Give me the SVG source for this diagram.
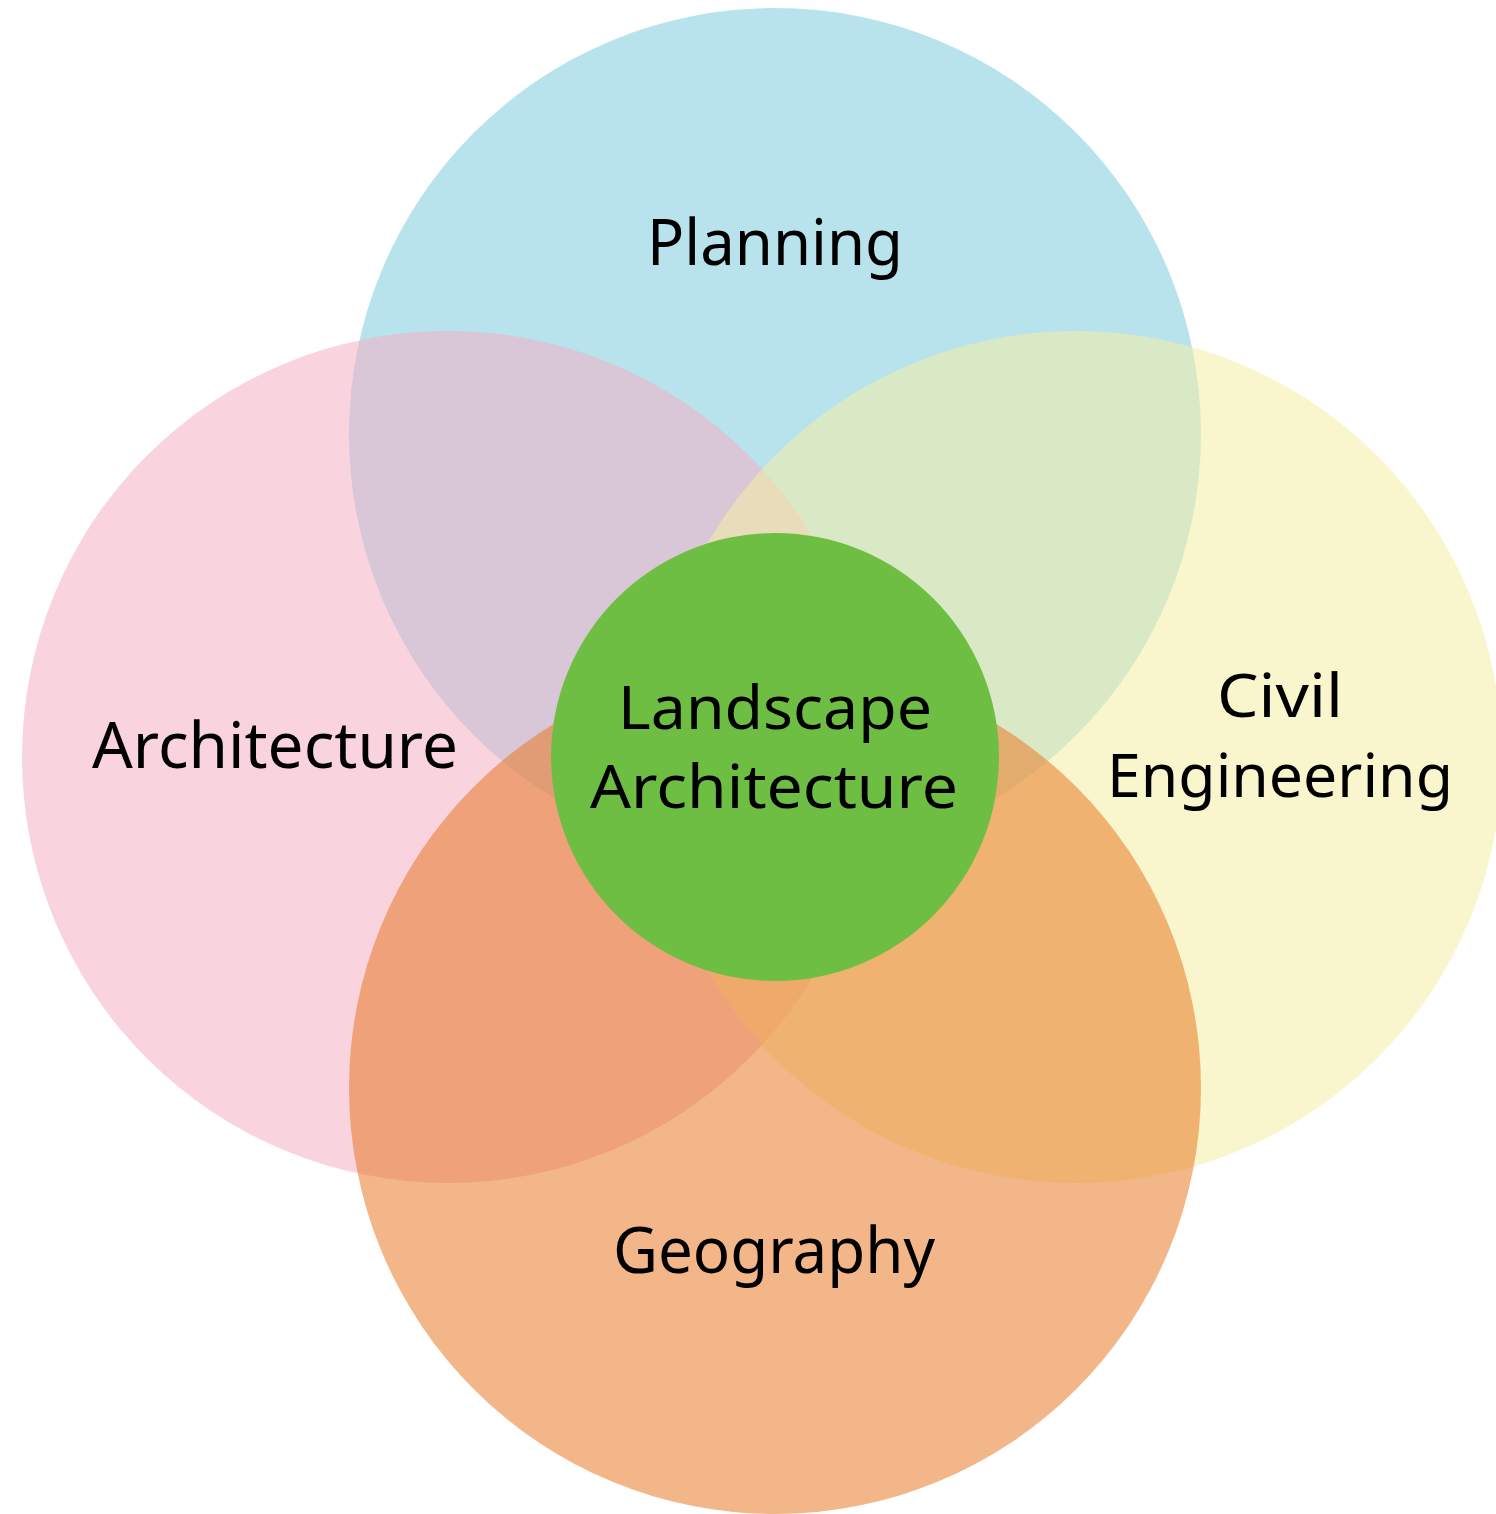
<svg xmlns="http://www.w3.org/2000/svg" width="1496" height="1514" viewBox="0 0 1496 1514">
<style>
.c{fill-opacity:0.55}
.t{font-family:"Noto Sans","Liberation Sans",sans-serif;font-size:64px;fill:#000;text-anchor:middle}
.s{font-size:60px}
</style>
<rect width="1496" height="1514" fill="#ffffff"/>
<g id="planning"><circle class="c" cx="775" cy="434" r="426" fill="rgb(126,204,222)"/></g>
<g id="architecture"><circle class="c" cx="448" cy="757" r="426" fill="rgb(244,175,195)"/></g>
<g id="civil-engineering"><circle class="c" cx="1076" cy="757" r="426" fill="rgb(244,239,164)"/></g>
<g id="geography"><circle class="c" cx="775" cy="1088" r="426" fill="rgb(231,122,39)"/></g>
<g id="landscape-architecture"><circle cx="775" cy="757" r="224" fill="#6fbe44"/></g>
<g id="labels">
<text class="t" x="775" y="265" textLength="256" lengthAdjust="spacingAndGlyphs">Planning</text>
<text class="t" x="275" y="768" textLength="366" lengthAdjust="spacingAndGlyphs">Architecture</text>
<text class="t s" x="775" y="729" textLength="314" lengthAdjust="spacingAndGlyphs">Landscape</text>
<text class="t s" x="774" y="808" textLength="368" lengthAdjust="spacingAndGlyphs">Architecture</text>
<text class="t s" x="1280" y="717" textLength="126" lengthAdjust="spacingAndGlyphs">Civil</text>
<text class="t s" x="1280" y="797" textLength="346" lengthAdjust="spacingAndGlyphs">Engineering</text>
<text class="t" x="774" y="1273" textLength="322" lengthAdjust="spacingAndGlyphs">Geography</text>
</g>
<g id="connectors"/>
</svg>
